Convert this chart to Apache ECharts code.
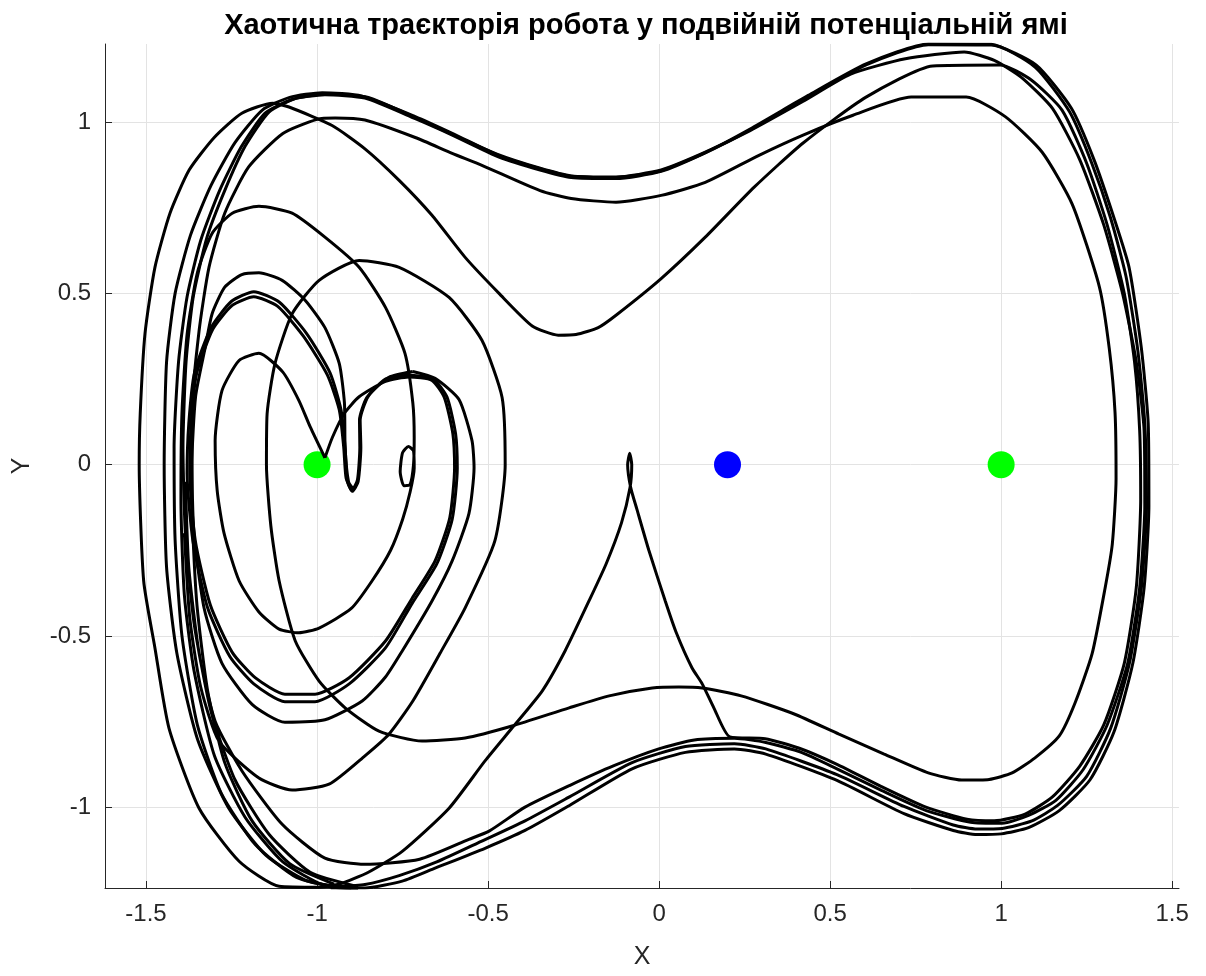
<!DOCTYPE html>
<html>
<head>
<meta charset="utf-8">
<script src="https://cdn.jsdelivr.net/npm/echarts@6/dist/echarts.min.js"></script>
<style>
html, body { margin: 0; padding: 0; background: #fff; }
#chart { width: 1206px; height: 976px; }
</style>
</head>
<body>
<div id="chart"></div>
<script>
// tick positions
var xTicks = [-1.5, -1, -0.5, 0, 0.5, 1, 1.5];
var yTicks = [-1, -0.5, 0, 0.5, 1];

// well centres and the robot start point
var wells = [[-1, 0], [1, 0]];
var startPoint = [[0.2, 0]];

// trajectory pieces, [x, y]
var outerA = [[-0.93,-1.236],[-1.06,-1.205],[-1.18,-1.11],[-1.28,-0.96],[-1.35,-0.76],[-1.395,-0.5],[-1.415,-0.22],[-1.418,0.05],[-1.405,0.3],[-1.38,0.49],[-1.34,0.655],[-1.285,0.8],[-1.222,0.927],[-1.152,1.026],[-1.073,1.066],[-0.977,1.08],[-0.86,1.07],[-0.713,1.01],[-0.6,0.96],[-0.468,0.898],[-0.348,0.86],[-0.257,0.838],[-0.126,0.835],[0.006,0.856],[0.135,0.91],[0.266,0.977],[0.436,1.073],[0.605,1.167],[0.787,1.226],[0.971,1.225],[1.102,1.167],[1.205,1.041],[1.272,0.889],[1.33,0.72],[1.374,0.576],[1.41,0.34],[1.43,0.12],[1.432,-0.12],[1.418,-0.36],[1.385,-0.58],[1.33,-0.78],[1.26,-0.92],[1.17,-1.01],[1.08,-1.06],[1.0,-1.078],[0.93,-1.08],[0.86,-1.068],[0.716,-1.019],[0.52,-0.922],[0.312,-0.845],[0.22,-0.83],[0.077,-0.84],[-0.079,-0.888],[-0.262,-0.995],[-0.392,-1.068],[-0.509,-1.12],[-0.655,-1.178],[-0.751,-1.216],[-0.86,-1.236],[-0.96,-1.236]];

var outerB = [[-0.88,-1.232],[-1.02,-1.19],[-1.14,-1.08],[-1.24,-0.92],[-1.31,-0.72],[-1.36,-0.46],[-1.385,-0.2],[-1.392,0.05],[-1.383,0.3],[-1.362,0.49],[-1.323,0.66],[-1.27,0.8],[-1.21,0.93],[-1.14,1.03],[-1.06,1.07],[-0.97,1.082],[-0.85,1.072],[-0.713,1.013],[-0.6,0.962],[-0.47,0.905],[-0.35,0.866],[-0.257,0.843],[-0.126,0.84],[0.006,0.86],[0.135,0.912],[0.266,0.975],[0.42,1.06],[0.56,1.14],[0.72,1.185],[0.892,1.205],[0.98,1.18],[1.06,1.13],[1.15,1.04],[1.23,0.89],[1.3,0.7],[1.355,0.5],[1.395,0.3],[1.418,0.1],[1.42,-0.12],[1.405,-0.36],[1.37,-0.58],[1.31,-0.76],[1.24,-0.89],[1.16,-0.98],[1.08,-1.024],[1.003,-1.047],[0.911,-1.044],[0.781,-1.01],[0.65,-0.951],[0.52,-0.888],[0.416,-0.84],[0.312,-0.811],[0.22,-0.799],[0.103,-0.804],[-0.001,-0.83],[-0.132,-0.879],[-0.262,-0.937],[-0.392,-1.0],[-0.497,-1.07],[-0.556,-1.094],[-0.7,-1.152],[-0.86,-1.167],[-0.977,-1.149],[-1.102,-1.05],[-1.219,-0.895],[-1.298,-0.749],[-1.345,-0.55],[-1.375,-0.3],[-1.385,-0.05]];

var outerC = [[-0.9,-1.236],[-1.03,-1.215],[-1.15,-1.14],[-1.26,-1.0],[-1.35,-0.8],[-1.41,-0.55],[-1.44,-0.3],[-1.447,0.0],[-1.44,0.3],[-1.415,0.5],[-1.37,0.67],[-1.31,0.815],[-1.24,0.94],[-1.16,1.035],[-1.08,1.072],[-0.985,1.086],[-0.87,1.076],[-0.713,1.016],[-0.6,0.965],[-0.47,0.903],[-0.35,0.865],[-0.257,0.842],[-0.126,0.838],[0.006,0.858],[0.135,0.911],[0.266,0.98],[0.436,1.078],[0.605,1.17],[0.787,1.228],[0.971,1.227],[1.1,1.16],[1.2,1.03],[1.265,0.88],[1.32,0.72],[1.365,0.55],[1.4,0.33],[1.42,0.12],[1.425,-0.12],[1.41,-0.36],[1.375,-0.58],[1.32,-0.77],[1.25,-0.91],[1.165,-0.995],[1.09,-1.04],[1.003,-1.062],[0.93,-1.064],[0.86,-1.052],[0.716,-0.998],[0.52,-0.905],[0.312,-0.83],[0.22,-0.815],[0.077,-0.823],[-0.079,-0.87],[-0.262,-0.97],[-0.392,-1.04],[-0.52,-1.1],[-0.65,-1.16],[-0.76,-1.2],[-0.86,-1.226],[-0.94,-1.232]];

var loopDip = [[-0.994,-1.234],[-1.111,-1.231],[-1.228,-1.158],[-1.345,-1.003],[-1.433,-0.769],[-1.474,-0.535],[-1.507,-0.339],[-1.52,0.0],[-1.517,0.149],[-1.503,0.383],[-1.474,0.576],[-1.43,0.734],[-1.374,0.86],[-1.3,0.956],[-1.22,1.026],[-1.13,1.055],[-1.082,1.044],[-0.956,0.99],[-0.86,0.922],[-0.76,0.83],[-0.664,0.728],[-0.567,0.605],[-0.468,0.5],[-0.371,0.405],[-0.295,0.378],[-0.243,0.38],[-0.178,0.4],[-0.126,0.436],[0.006,0.543],[0.135,0.664],[0.278,0.81],[0.421,0.939],[0.605,1.073],[0.8,1.164],[0.997,1.167],[1.088,1.123],[1.178,1.035],[1.25,0.88],[1.31,0.7],[1.36,0.5],[1.39,0.3],[1.405,0.1],[1.408,-0.1],[1.395,-0.36],[1.36,-0.58],[1.3,-0.76],[1.23,-0.88],[1.15,-0.97],[1.07,-1.02],[0.98,-1.04],[0.9,-1.035],[0.78,-1.0],[0.65,-0.94],[0.52,-0.875],[0.41,-0.828],[0.31,-0.8],[0.207,-0.795],[0.16,-0.71],[0.126,-0.64],[0.096,-0.593],[0.05,-0.49],[0.018,-0.398],[-0.03,-0.25],[-0.065,-0.13],[-0.083,-0.067],[-0.092,0.0],[-0.086,0.033],[-0.08,0.0],[-0.085,-0.067],[-0.11,-0.17],[-0.155,-0.29],[-0.205,-0.398],[-0.275,-0.544],[-0.342,-0.661],[-0.43,-0.769],[-0.509,-0.865],[-0.614,-1.003],[-0.751,-1.129],[-0.85,-1.19],[-0.936,-1.225],[-0.994,-1.234]];

var loopInner = [[-0.95,-1.225],[-1.08,-1.165],[-1.19,-1.04],[-1.27,-0.87],[-1.32,-0.66],[-1.352,-0.4],[-1.366,-0.1],[-1.366,0.149],[-1.345,0.39],[-1.316,0.576],[-1.27,0.734],[-1.2,0.869],[-1.1,0.967],[-1.0,1.008],[-0.947,1.012],[-0.86,1.006],[-0.713,0.955],[-0.605,0.909],[-0.518,0.874],[-0.348,0.8],[-0.257,0.777],[-0.126,0.766],[0.006,0.786],[0.135,0.824],[0.292,0.903],[0.421,0.962],[0.567,1.02],[0.737,1.073],[0.898,1.073],[1.012,1.016],[1.12,0.912],[1.208,0.76],[1.287,0.52],[1.316,0.34],[1.333,0.152],[1.336,-0.04],[1.325,-0.232],[1.304,-0.36],[1.266,-0.552],[1.216,-0.696],[1.17,-0.792],[1.099,-0.856],[1.032,-0.9],[0.965,-0.919],[0.885,-0.921],[0.787,-0.9],[0.658,-0.845],[0.526,-0.787],[0.395,-0.728],[0.24,-0.675],[0.126,-0.652],[0.058,-0.649],[-0.02,-0.652],[-0.146,-0.675],[-0.263,-0.71],[-0.43,-0.763],[-0.567,-0.798],[-0.693,-0.807],[-0.819,-0.778],[-0.918,-0.71],[-0.994,-0.632],[-1.064,-0.514],[-1.111,-0.339],[-1.135,-0.18],[-1.148,0.0],[-1.146,0.149],[-1.123,0.295],[-1.073,0.44],[-0.994,0.538],[-0.877,0.596],[-0.76,0.576],[-0.614,0.488],[-0.518,0.363],[-0.459,0.196],[-0.45,0.0],[-0.48,-0.222],[-0.567,-0.418],[-0.64,-0.55],[-0.72,-0.69],[-0.79,-0.787],[-0.86,-0.85],[-0.965,-0.933],[-1.073,-0.95],[-1.17,-0.915],[-1.287,-0.807],[-1.34,-0.65],[-1.372,-0.45],[-1.388,-0.2]];

var heartInner = [[-0.977,0.02],[-0.955,0.08],[-0.92,0.15],[-0.877,0.198],[-0.8,0.243],[-0.731,0.256],[-0.664,0.246],[-0.628,0.196],[-0.603,0.09],[-0.598,-0.01],[-0.612,-0.155],[-0.655,-0.281],[-0.722,-0.39],[-0.8,-0.515],[-0.906,-0.622],[-1.006,-0.67],[-1.094,-0.67],[-1.181,-0.622],[-1.248,-0.548],[-1.312,-0.41],[-1.356,-0.222],[-1.372,-0.026],[-1.368,0.12],[-1.352,0.266],[-1.305,0.395],[-1.248,0.465],[-1.185,0.49],[-1.115,0.462],[-1.04,0.375],[-0.97,0.262],[-0.935,0.16],[-0.922,0.05],[-0.915,-0.04],[-0.898,-0.075],[-0.882,-0.045],[-0.875,0.05],[-0.876,0.13],[-0.855,0.195],[-0.8,0.25],[-0.731,0.262]];

var heartMiddle = [[-0.731,0.262],[-0.66,0.25],[-0.62,0.197],[-0.595,0.09],[-0.59,-0.01],[-0.605,-0.16],[-0.65,-0.29],[-0.722,-0.405],[-0.8,-0.535],[-0.906,-0.64],[-1.006,-0.692],[-1.094,-0.692],[-1.185,-0.64],[-1.255,-0.56],[-1.32,-0.418],[-1.363,-0.222],[-1.38,-0.026],[-1.375,0.12],[-1.358,0.27],[-1.31,0.4],[-1.25,0.477],[-1.185,0.505],[-1.11,0.474],[-1.03,0.382],[-0.962,0.268],[-0.93,0.16],[-0.918,0.05],[-0.912,-0.045],[-0.897,-0.078],[-0.88,-0.05],[-0.872,0.05],[-0.874,0.13],[-0.85,0.2],[-0.79,0.255],[-0.72,0.272]];

var heartOuter = [[-0.72,0.272],[-0.655,0.252],[-0.585,0.19],[-0.547,0.07],[-0.541,-0.009],[-0.556,-0.143],[-0.605,-0.281],[-0.664,-0.398],[-0.751,-0.544],[-0.8,-0.62],[-0.868,-0.69],[-0.977,-0.745],[-1.094,-0.752],[-1.19,-0.7],[-1.278,-0.58],[-1.33,-0.42],[-1.36,-0.2],[-1.366,0.0],[-1.355,0.2],[-1.327,0.342],[-1.307,0.44],[-1.27,0.518],[-1.22,0.555],[-1.17,0.56],[-1.102,0.538],[-1.035,0.48],[-0.977,0.4],[-0.935,0.295],[-0.92,0.18],[-0.918,0.05],[-0.908,-0.05],[-0.893,-0.072]];

var greenLoop = [[-0.977,0.02],[-1.02,0.11],[-1.053,0.187],[-1.1,0.27],[-1.17,0.325],[-1.228,0.304],[-1.278,0.216],[-1.298,0.07],[-1.292,-0.076],[-1.272,-0.2],[-1.228,-0.339],[-1.17,-0.43],[-1.111,-0.48],[-1.053,-0.491],[-0.994,-0.477],[-0.9,-0.42],[-0.839,-0.339],[-0.785,-0.25],[-0.75,-0.16],[-0.728,-0.08],[-0.716,-0.01],[-0.718,0.04],[-0.733,0.053],[-0.75,0.035],[-0.757,-0.02],[-0.746,-0.062],[-0.728,-0.058],[-0.718,0.0],[-0.716,0.08],[-0.72,0.18],[-0.743,0.325],[-0.8,0.459],[-0.877,0.576],[-0.977,0.664],[-1.073,0.734],[-1.17,0.754],[-1.248,0.734],[-1.307,0.675],[-1.35,0.56],[-1.38,0.38],[-1.395,0.15],[-1.398,-0.1],[-1.388,-0.38],[-1.36,-0.6],[-1.3,-0.85],[-1.21,-1.03],[-1.1,-1.16],[-0.98,-1.228],[-0.88,-1.24]];

var myChart = echarts.init(document.getElementById('chart'));

var paths = [outerA, outerB, outerC, loopDip, loopInner, heartInner, heartMiddle, heartOuter, greenLoop];
var series = [];

series.push({
	type: 'scatter',
	data: wells,
	symbolSize: 27,
	itemStyle: { color: '#00ff00', opacity: 1 },
	z: 2,
	silent: true
});
series.push({
	type: 'scatter',
	data: startPoint,
	symbolSize: 27,
	itemStyle: { color: '#0000ff', opacity: 1 },
	z: 2,
	silent: true
});

paths.forEach(function(p) {
	series.push({
		type: 'line',
		data: p,
		showSymbol: false,
		smooth: 0.2,
		lineStyle: { color: '#000', width: 3 },
		z: 3,
		silent: true
	});
});

var textColor = '#262626';
var font = 'Liberation Sans, Arial, sans-serif';

var option = {
	animation: false,
	title: {
		text: 'Хаотична траєкторія робота у подвійній потенціальній ямі',
		left: 641,
		textAlign: 'center',
		top: 6,
		textStyle: { fontSize: 29, fontWeight: 'bold', color: '#000', fontFamily: font }
	},
	grid: {
		left: 105,
		right: 27,
		top: 44,
		bottom: 88
	},
	xAxis: {
		type: 'value',
		min: -1.62,
		max: 1.52,
		name: 'X',
		nameLocation: 'middle',
		nameGap: 57,
		nameTextStyle: { fontSize: 25, color: textColor, fontFamily: font },
		axisLine: { onZero: false, lineStyle: { color: textColor } },
		axisTick: { inside: true, length: 7, customValues: xTicks, lineStyle: { color: textColor } },
		axisLabel: { customValues: xTicks, fontSize: 24, color: textColor, margin: 14, fontFamily: font },
		splitLine: { show: true, lineStyle: { color: '#e3e3e3' } }
	},
	yAxis: {
		type: 'value',
		min: -1.236,
		max: 1.228,
		name: 'Y',
		nameLocation: 'middle',
		nameGap: 70,
		nameTextStyle: { fontSize: 25, color: textColor, fontFamily: font },
		axisLine: { onZero: false, lineStyle: { color: textColor } },
		axisTick: { inside: true, length: 7, customValues: yTicks, lineStyle: { color: textColor } },
		axisLabel: { customValues: yTicks, fontSize: 24, color: textColor, margin: 14, fontFamily: font },
		splitLine: { show: true, lineStyle: { color: '#e3e3e3' } }
	},
	series: series
};

myChart.setOption(option);
</script>
</body>
</html>
